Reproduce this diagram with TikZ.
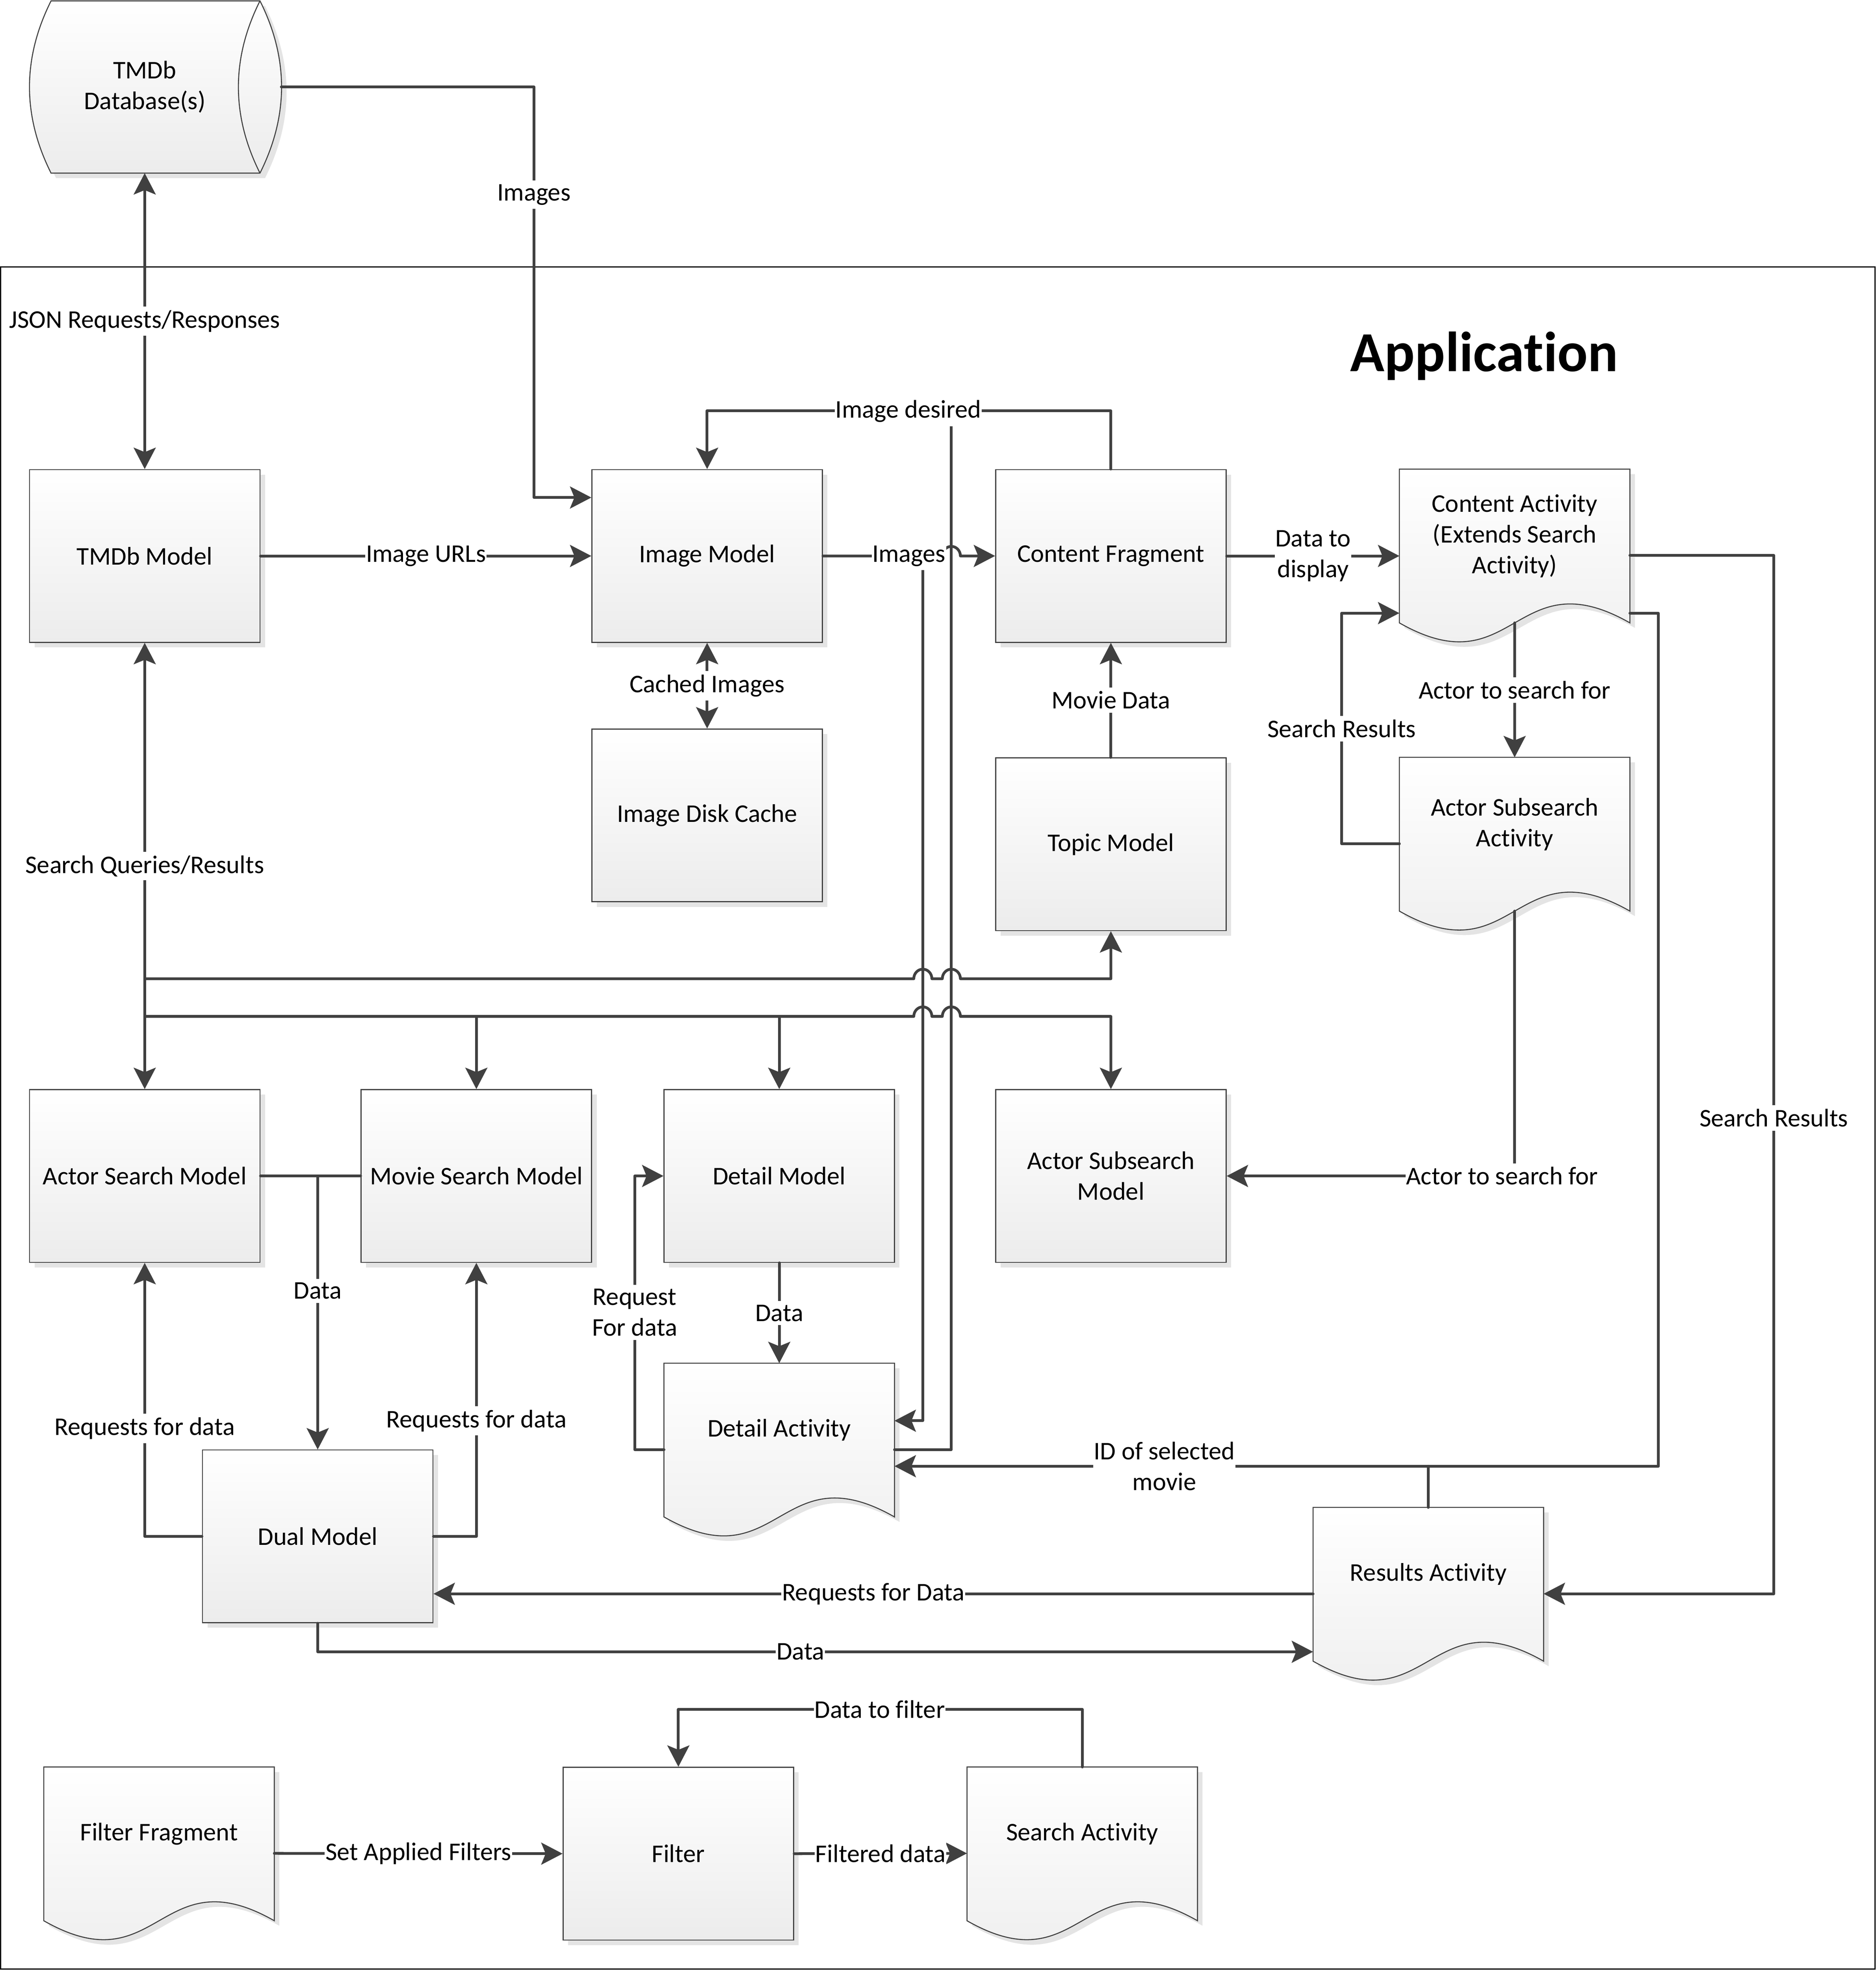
\documentclass[tikz,border=0pt]{standalone}
\usepackage{fontspec}
\setmainfont{Carlito}[Ligatures=NoCommon]
\usetikzlibrary{arrows.meta, positioning, calc, shadows}

\definecolor{linegray}{RGB}{64,64,64}
\definecolor{boxbot}{RGB}{236,236,236}
\definecolor{shadowgray}{RGB}{228,228,228}

\tikzset{
  >={Stealth[length=17pt, width=17.5pt, inset=3.5pt]},
  box/.style={draw=linegray, line width=0.8pt, top color=white, bottom color=boxbot,
    minimum width=183.5pt, minimum height=137.5pt, inner sep=2pt, align=center,
    drop shadow={shadow xshift=4pt, shadow yshift=-4pt, fill=shadowgray, opacity=1}},
  docbox/.style={minimum width=183.5pt, minimum height=137.5pt, inner sep=0pt, outer sep=0pt},
  flow/.style={draw=linegray, line width=2.2pt, line join=round, line cap=round},
  lbl/.style={fill=white, inner xsep=0.5pt, inner ysep=3pt, align=center},
}

% wavy bottom of a document shape
\newcommand{\docpath}[1]{(#1.north west) -- (#1.north east)
  -- ($(#1.north east)!0.89!(#1.south east)$)
  .. controls ($(#1.north)!0.51!(#1.south)$) and ($(#1.north)!1.27!(#1.south)$)
  .. ($(#1.north west)!0.89!(#1.south west)$) -- cycle}

\newcommand{\docnode}[3]{%
  \node[docbox] (#1) at (#2) {};
  \fill[shadowgray, transform canvas={shift={(4pt,-4pt)}}] \docpath{#1};
  \shade[top color=white, bottom color=boxbot, draw=linegray, line width=0.8pt] \docpath{#1};
  \node[align=center] (#1-txt) at ($(#1.center)+(0,-15.5)$) {#3};}

% database drum lying on its side
\newcommand{\dbpath}{($(db.north west)+(17.2,0)$) -- (db.north east)
  .. controls ($(db.north east)+(22.9,45.7)$) and ($(db.south east)+(22.9,-45.7)$) .. (db.south east)
  -- ($(db.south west)+(17.2,0)$)
  .. controls ($(db.south west)+(-5.7,-45.7)$) and ($(db.north west)+(-5.7,45.7)$) .. ($(db.north west)+(17.2,0)$) -- cycle}

% line hop over a vertical connector
\newcommand{\hop}[2]{-- ({#1-7.2},#2) arc[start angle=180, end angle=360, x radius=7.2, y radius=7.6]}

\begin{document}
\begin{tikzpicture}[x=1pt, y=-1pt, font=\fontsize{20.25}{24.5}\selectfont]
\useasboundingbox (0,0) rectangle (1493.3,1568);

% Application frame
\draw[line width=1pt] (0.5,212.5) rectangle (1492.6,1567.3);
\node[font=\bfseries\fontsize{45}{54}\selectfont, anchor=base] (title) at (1181.5,295.5) {Application};

% TMDb database
\node[docbox, minimum height=137.1pt] (db) at (115.2,69.25) {};
\fill[shadowgray, transform canvas={shift={(4pt,-4pt)}}] \dbpath;
\shade[top color=white, bottom color=boxbot, draw=linegray, line width=0.8pt] \dbpath;
\draw[linegray, line width=0.8pt] (db.north east) .. controls ($(db.north east)+(-22.9,45.7)$) and ($(db.south east)+(-22.9,-45.7)$) .. (db.south east);
\node[align=center] (db-txt) at (db.center) {TMDb\\Database(s)};

% Models
\node[box] (tmdb) at (115.2,442.5) {TMDb Model};
\node[box] (imgm) at (562.9,442.5) {Image Model};
\node[box] (cfrag) at (884.3,442.5) {Content Fragment};
\node[box] (cache) at (562.9,649) {Image Disk Cache};
\node[box] (topic) at (884.3,672) {Topic Model};
\node[box] (asm) at (115.2,936) {Actor Search Model};
\node[box] (msm) at (379.2,936) {Movie Search Model};
\node[box] (detm) at (620.3,936) {Detail Model};
\node[box] (asubm) at (884.3,936) {Actor Subsearch\\Model};
\node[box] (dual) at (252.9,1222.85) {Dual Model};
\node[box] (filter) at (540,1475.4) {Filter};

% Activities and fragments
\docnode{cact}{1205.7,442.15}{Content Activity\\(Extends Search\\Activity)}
\docnode{asact}{1205.7,671.55}{Actor Subsearch\\Activity}
\docnode{detact}{620.3,1153.75}{Detail Activity}
\docnode{resact}{1137,1268.55}{Results Activity}
\docnode{ffrag}{126.6,1475.15}{Filter Fragment}
\docnode{sact}{861.5,1475.15}{Search Activity}

% TMDb side
\coordinate (db-out) at ($(db.east)+(17,0)$);
\draw[flow,<->] (tmdb.north) -- (tmdb.north |- db.south) node[lbl, midway] (l-json) {JSON Requests/Responses};
\draw[flow,->] (db-out) -- (425,69.25) -- (425,396) -- ($(imgm.west)+(0,-46.5)$);
\node[lbl] (l-img1) at (425,155) {Images};
\draw[flow,->] (tmdb.east) -- (imgm.west) node[lbl, midway] (l-urls) {Image URLs};
\draw[flow,<->] (imgm.south) -- (cache.north) node[lbl, midway] (l-cached) {Cached Images};

% Images to the Detail Activity and image requests back
\draw[flow,->] (734.6,442.5) -- (734.6,1130.8) -- ($(detact.east)+(0,-22.95)$);
\draw[flow] (detact.east) -- (757.3,1153.75) -- (757.3,327.4);
\draw[flow,->] (imgm.east) \hop{757.3}{442.5} -- (cfrag.west);
\node[lbl] (l-img2) at (723.5,442.5) {Images};
\draw[flow,->] (cfrag.north) -- ++(0,-46.4) -| (imgm.north);
\node[lbl] (l-desired) at (723,327.4) {Image desired};

% Content side
\draw[flow,->] (topic.north) -- (cfrag.south) node[lbl, midway] (l-movie) {Movie Data};
\draw[flow,->] (cfrag.east) -- (cfrag.east -| cact.west) node[lbl, midway] (l-display) {Data to\\display};
\coordinate (cact-b) at ($(cact.north)!0.89!(cact.south)$);
\coordinate (asact-b) at ($(asact.north)!0.89!(asact.south)$);
\draw[flow,->] (cact-b) -- (asact.north) node[lbl, midway] (l-actor1) {Actor to search for};
\draw[flow,->] (asact.west) -- (1068,671.55) -- (1068,488) -- ($(cact.west)+(0,45.85)$);
\node[lbl] (l-sres1) at (1068,580) {Search Results};
\draw[flow,->] (asact-b) |- (asubm.east);
\node[lbl] (l-actor2) at (1195.7,936) {Actor to search for};
\draw[flow,->] (cact.east) -| (1412,1268.55) -- (resact.east);
\node[lbl] (l-sres2) at (1412,889.8) {Search Results};
\draw[flow,->] ($(cact.east)+(0,45.85)$) -- (1320.2,488) -- (1320.2,1167) -- ($(detact.east)+(0,13.25)$);
\draw[flow] (resact.north) -- (resact.north |- 0,1167);
\node[lbl] (l-id) at (926.8,1167) {ID of selected\\movie};

% Search queries
\coordinate (bus1) at (115.2,779);
\coordinate (bus2) at (115.2,809);
\draw[flow,<->] (tmdb.south) -- (asm.north) node[lbl, midway] (l-search) {Search Queries/Results};
\draw[flow,->] (bus1) \hop{734.6}{779} \hop{757.3}{779} -| (topic.south);
\draw[flow,->] (bus2) \hop{734.6}{809} \hop{757.3}{809} -| (asubm.north);
\draw[flow,->] (msm.north |- bus2) -- (msm.north);
\draw[flow,->] (detm.north |- bus2) -- (detm.north);

% Search models and the Dual Model
\draw[flow] (asm.east) -- (msm.west);
\draw[flow,->] (asm.east -| dual.north) -- (dual.north) node[lbl, pos=0.42] (l-data1) {Data};
\draw[flow,->] (dual.west) -| (asm.south);
\node[lbl] (l-req1) at (115.2,1136.9) {Requests for data};
\draw[flow,->] (dual.east) -| (msm.south);
\node[lbl] (l-req2) at (379.2,1130.9) {Requests for data};
\draw[flow,->] (resact.west) -- (resact.west -| dual.east) node[lbl, midway] (l-req3) {Requests for Data};
\draw[flow,->] (dual.south) |- ($(resact.west)+(0,46.15)$);
\node[lbl] (l-data2) at (637.2,1314.7) {Data};

% Detail
\draw[flow,->] (detact.west) -- ++(-23.3,0) |- (detm.west);
\node[lbl] (l-reqd) at (505.2,1044.6) {Request\\For data};
\draw[flow,->] (detm.south) -- (detact.north) node[lbl, midway] (l-data3) {Data};

% Filtering
\draw[flow,->] (ffrag.east) -- (filter.west) node[lbl, midway] (l-set) {Set Applied Filters};
\draw[flow,->] (filter.east) -- (sact.west) node[lbl, midway] (l-filtered) {Filtered data};
\draw[flow,->] (sact.north) -- ++(0,-45.9) -| (filter.north);
\node[lbl] (l-tofilter) at (700.3,1360.5) {Data to filter};
\end{tikzpicture}
\end{document}
